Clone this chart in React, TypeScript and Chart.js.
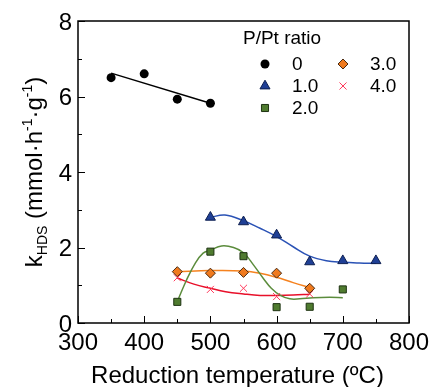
import React, { useEffect, useRef } from "react";
import { Chart, registerables } from "chart.js";
import { drawPoint } from "chart.js/helpers";

Chart.register(...registerables);

// ---- data ----
const xTicks = [300, 400, 500, 600, 700, 800];
const yTicks = [0, 2, 4, 6, 8];
const xMinorTicks = [350, 450, 550, 650, 750];
const yMinorTicks = [1, 3, 5, 7];

const legendTitle = "P/Pt ratio";
const legendLabels = ["0", "1.0", "2.0", "3.0", "4.0"];

const tempsP0 = [350, 400, 450, 500];
const kP0 = [6.5, 6.6, 5.93, 5.82];
const fitP0Temps = [350, 500];
const fitP0K = [6.62, 5.82];

const tempsP1 = [500, 550, 600, 650, 700, 750];
const kP1 = [2.8, 2.68, 2.33, 1.62, 1.65, 1.65];
const fitP1Temps = [500, 522, 550, 575, 600, 625, 650, 675, 700, 725, 750];
const fitP1K = [2.8, 2.86, 2.71, 2.51, 2.29, 2.02, 1.77, 1.65, 1.61, 1.59, 1.58];

const tempsP2 = [450, 500, 550, 600, 650, 700];
const kP2 = [0.56, 1.89, 1.77, 0.42, 0.43, 0.89];
const fitP2Temps = [451, 464, 477, 489, 500, 517, 535, 550, 565, 580, 592, 605, 620, 635, 655, 680, 700];
const fitP2K = [0.61, 1.14, 1.58, 1.85, 1.93, 2.04, 2.0, 1.86, 1.54, 1.18, 0.92, 0.74, 0.64, 0.64, 0.67, 0.68, 0.67];

const tempsP3 = [450, 500, 550, 600, 650];
const kP3 = [1.36, 1.32, 1.34, 1.32, 0.92];
const fitP3Temps = [450, 500, 550, 575, 600, 625, 650];
const fitP3K = [1.36, 1.39, 1.38, 1.32, 1.21, 1.07, 0.94];

const tempsP4 = [450, 500, 550, 600, 650];
const kP4 = [1.2, 0.89, 0.92, 0.7, 0.77];
const fitP4Temps = [450, 475, 500, 523, 550, 575, 600, 625, 650];
const fitP4K = [1.19, 1.03, 0.92, 0.83, 0.77, 0.73, 0.73, 0.74, 0.76];

// ---- styles ----
const FONT = "'Liberation Sans', Arial, Helvetica, sans-serif";
const markerStyles = [
  { pointStyle: "circle", radius: 4.5, fill: "#000000", stroke: "#000000", bw: 0 },
  { pointStyle: "triangle", radius: 5.8, fill: "#1f3f95", stroke: "#0d1f50", bw: 1 },
  { pointStyle: "rect", radius: 5, fill: "#4f7b2f", stroke: "#1e3312", bw: 1 },
  { pointStyle: "rectRot", radius: 5, fill: "#f07a1e", stroke: "#4a2a10", bw: 1 },
  { pointStyle: "crossRot", radius: 5, fill: "#ff3a5c", stroke: "#ff3a5c", bw: 1 },
];
const lineColors = ["#000000", "#2a52b5", "#5b8c3c", "#f5821f", "#e8102a"];

const toXY = (xs: number[], ys: number[]) => xs.map((x, i) => ({ x, y: ys[i] }));

const pointSets = [
  toXY(tempsP0, kP0),
  toXY(tempsP1, kP1),
  toXY(tempsP2, kP2),
  toXY(tempsP3, kP3),
  toXY(tempsP4, kP4),
];
const fitSets = [
  toXY(fitP0Temps, fitP0K),
  toXY(fitP1Temps, fitP1K),
  toXY(fitP2Temps, fitP2K),
  toXY(fitP3Temps, fitP3K),
  toXY(fitP4Temps, fitP4K),
];

const decorPlugin = {
  id: "decor",
  afterDraw(chart: any) {
    const { ctx, chartArea } = chart;
    const xs = chart.scales.x;
    const ys = chart.scales.y;
    const { left, right, top, bottom } = chartArea;
    ctx.save();
    ctx.strokeStyle = "#000";
    ctx.fillStyle = "#000";

    // ticks (inward)
    ctx.lineWidth = 1;
    ctx.beginPath();
    xTicks.forEach((v) => {
      const px = Math.round(xs.getPixelForValue(v)) + 0.5;
      ctx.moveTo(px, bottom);
      ctx.lineTo(px, bottom - 7);
    });
    xMinorTicks.forEach((v) => {
      const px = Math.round(xs.getPixelForValue(v)) + 0.5;
      ctx.moveTo(px, bottom);
      ctx.lineTo(px, bottom - 4);
    });
    yTicks.forEach((v) => {
      const py = Math.round(ys.getPixelForValue(v)) + 0.5;
      ctx.moveTo(left, py);
      ctx.lineTo(left + 7, py);
    });
    yMinorTicks.forEach((v) => {
      const py = Math.round(ys.getPixelForValue(v)) + 0.5;
      ctx.moveTo(left, py);
      ctx.lineTo(left + 4, py);
    });
    ctx.stroke();

    // frame
    ctx.lineWidth = 1.5;
    ctx.strokeRect(left, top, right - left, bottom - top);

    // tick labels
    ctx.font = `24px ${FONT}`;
    ctx.textAlign = "center";
    ctx.textBaseline = "alphabetic";
    xTicks.forEach((v) => {
      ctx.fillText(String(v), xs.getPixelForValue(v), bottom + 27);
    });
    ctx.textAlign = "right";
    yTicks.forEach((v) => {
      ctx.fillText(String(v), left - 6, ys.getPixelForValue(v) + 8.6);
    });

    // x title
    ctx.textAlign = "center";
    ctx.fillText("Reduction temperature (\u00baC)", (left + right) / 2 - 6, 383);

    // y title (rotated, with sub/superscripts)
    const parts = [
      { t: "k", size: 24, dy: 0 },
      { t: "HDS", size: 14, dy: 5 },
      { t: " (mmol\u00b7h", size: 24, dy: 0 },
      { t: "-1", size: 14, dy: -10 },
      { t: "\u00b7g", size: 24, dy: 0 },
      { t: "-1", size: 14, dy: -10 },
      { t: ")", size: 24, dy: 0 },
    ];
    let total = 0;
    parts.forEach((p) => {
      ctx.font = `${p.size}px ${FONT}`;
      total += ctx.measureText(p.t).width;
    });
    ctx.save();
    ctx.translate(42, (top + bottom) / 2);
    ctx.rotate(-Math.PI / 2);
    ctx.textAlign = "left";
    let cx = -total / 2;
    parts.forEach((p) => {
      ctx.font = `${p.size}px ${FONT}`;
      ctx.fillText(p.t, cx, p.dy);
      cx += ctx.measureText(p.t).width;
    });
    ctx.restore();

    // legend
    ctx.font = `19px ${FONT}`;
    ctx.textAlign = "left";
    ctx.textBaseline = "middle";
    ctx.fillText(legendTitle, 243, 39);
    const rowY = [64, 86, 108];
    const colSym = [265, 343];
    const colTxt = [292, 370];
    legendLabels.forEach((lab, i) => {
      const col = i < 3 ? 0 : 1;
      const row = i < 3 ? i : i - 3;
      const m = markerStyles[i];
      ctx.fillStyle = m.fill;
      ctx.strokeStyle = m.stroke;
      ctx.lineWidth = m.bw || 1;
      drawPoint(
        ctx,
        { pointStyle: m.pointStyle as any, radius: m.radius, rotation: 0, borderWidth: m.bw } as any,
        colSym[col],
        rowY[row]
      );
      ctx.fillStyle = "#000";
      ctx.fillText(lab, colTxt[col], rowY[row] + 1);
    });

    ctx.restore();
  },
};

export default function App() {
  const canvasRef = useRef<HTMLCanvasElement | null>(null);

  useEffect(() => {
    if (!canvasRef.current) return;
    const datasets: any[] = [];
    fitSets.forEach((d, i) => {
      datasets.push({
        type: "line",
        data: d,
        showLine: true,
        borderColor: lineColors[i],
        borderWidth: 1.5,
        pointRadius: 0,
        tension: i === 0 ? 0 : 0.4,
        fill: false,
        order: 2,
      });
    });
    pointSets.forEach((d, i) => {
      const m = markerStyles[i];
      datasets.push({
        type: "scatter",
        data: d,
        showLine: false,
        pointStyle: m.pointStyle,
        pointRadius: m.radius,
        pointBackgroundColor: m.fill,
        pointBorderColor: m.stroke,
        pointBorderWidth: m.bw,
        order: 1,
      });
    });

    const chart = new Chart(canvasRef.current, {
      type: "scatter",
      data: { datasets },
      options: {
        animation: false,
        responsive: true,
        maintainAspectRatio: false,
        devicePixelRatio: 1,
        layout: { padding: { left: 0, top: 21, right: 22, bottom: 0 } },
        plugins: { legend: { display: false }, tooltip: { enabled: false }, title: { display: false } },
        scales: {
          x: {
            type: "linear",
            min: 300,
            max: 800,
            grid: { display: false, drawTicks: false },
            border: { display: false },
            ticks: { display: false, stepSize: 100 },
            afterFit: (s: any) => {
              s.height = 64;
            },
          },
          y: {
            type: "linear",
            min: 0,
            max: 8,
            grid: { display: false, drawTicks: false },
            border: { display: false },
            ticks: { display: false, stepSize: 2 },
            afterFit: (s: any) => {
              s.width = 78;
            },
          },
        },
      } as any,
      plugins: [decorPlugin],
    });
    return () => chart.destroy();
  }, []);

  return (
    <div style={{ position: "absolute", left: 0, top: 0, width: 431, height: 387, background: "#fff" }}>
      <canvas ref={canvasRef} />
    </div>
  );
}
